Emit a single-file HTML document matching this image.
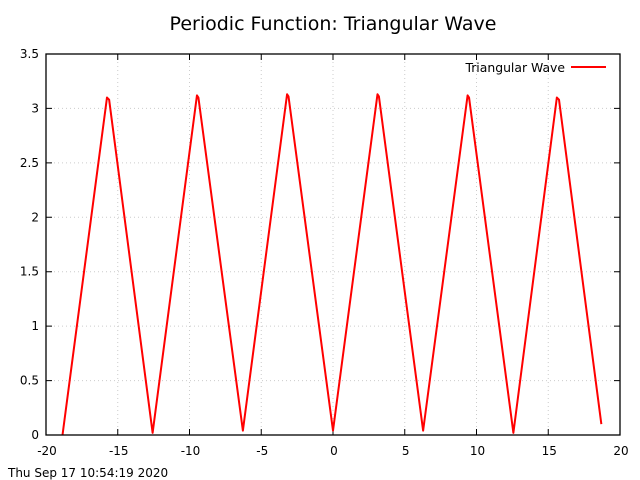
<!DOCTYPE html>
<html><head><meta charset="utf-8"><style>
body{margin:0;background:#fff;}
svg{display:block;font-family:"Liberation Sans","DejaVu Sans",sans-serif;}
</style></head><body>
<svg id="chart" width="640" height="480" xmlns="http://www.w3.org/2000/svg">
<text x="333" y="30" font-size="19" text-anchor="middle" font-family="DejaVu Sans, sans-serif">Periodic Function: Triangular Wave</text>
<g id="grid"></g><g id="axes"></g><g id="series"></g>
<rect x="46" y="54" width="574" height="381" fill="none" stroke="#000" stroke-width="1.3"/>
<g>
<text x="565" y="72" font-size="12.4" text-anchor="end" font-family="DejaVu Sans, sans-serif">Triangular Wave</text>
<line x1="571" y1="67" x2="606" y2="67" stroke="#f00" stroke-width="2"/>
</g>
<text x="8" y="477" font-size="12" font-family="DejaVu Sans, sans-serif">Thu Sep 17 10:54:19 2020</text>
</svg>
<script>
const xTicks=[-20,-15,-10,-5,0,5,10,15,20];
const yTicks=[0,0.5,1,1.5,2,2.5,3,3.5];
const yTickLabels=["0","0.5","1","1.5","2","2.5","3","3.5"];
const waveX=[-18.85,-15.75,-15.6,-12.57,-9.48,-9.38,-6.28,-3.2,-3.1,0,3.1,3.2,6.28,9.38,9.48,12.57,15.6,15.75,18.7];
const waveY=[0,3.1,3.08,0.02,3.12,3.1,0.04,3.13,3.11,0.04,3.13,3.11,0.04,3.12,3.1,0.02,3.1,3.08,0.1];
const NS="http://www.w3.org/2000/svg";
const L=46,R=620,T=54,B=435;
const sx=v=>L+(v+20)/40*(R-L);
const sy=v=>B-v/3.5*(B-T);
function mk(tag,attrs,parent){const e=document.createElementNS(NS,tag);for(const k in attrs)e.setAttribute(k,attrs[k]);parent.appendChild(e);return e;}
const grid=document.getElementById('grid'),axes=document.getElementById('axes'),series=document.getElementById('series');
xTicks.forEach(t=>{const x=sx(t);
 if(t>-20&&t<20){const g=mk('line',{x1:x,y1:T,x2:x,y2:B,stroke:'#ccc','stroke-dasharray':'1,3'},grid);
 
 }
 const tk=mk('path',{d:`M${x},${B}v-6M${x},${T}v6`,stroke:'#000'},axes);
 
 
 const lb=mk('text',{x:x+1,y:455,'font-size':12,'text-anchor':'middle','font-family':'DejaVu Sans, sans-serif'},axes);lb.textContent=t;
 
 
});
yTicks.forEach((t,i)=>{const y=sy(t);
 if(t>0&&t<3.5){const g=mk('line',{x1:L,y1:y,x2:R,y2:y,stroke:'#ccc','stroke-dasharray':'1,3'},grid);
 
 }
 const tk=mk('path',{d:`M${L},${y}h6M${R},${y}h-6`,stroke:'#000'},axes);
 
 
 const lb=mk('text',{x:39,y:y+4,'font-size':12,'text-anchor':'end','font-family':'DejaVu Sans, sans-serif'},axes);lb.textContent=yTickLabels[i];
 
 
});
const pts=waveX.map((x,i)=>sx(x)+','+sy(waveY[i])).join(' ');
const pl=mk('polyline',{points:pts,fill:'none',stroke:'#f00','stroke-width':2,'stroke-linejoin':'round'},series);


</script>
</body></html>
